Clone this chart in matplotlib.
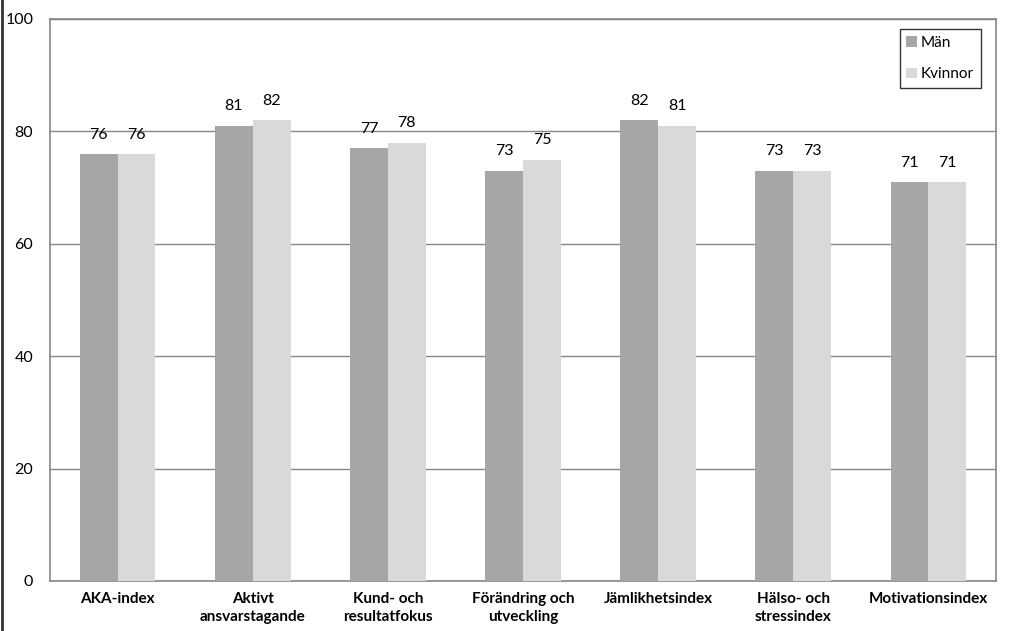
import matplotlib
matplotlib.use("Agg")
import matplotlib.pyplot as plt
import numpy as np
from matplotlib.lines import Line2D

categories = ["AKA-index", "Aktivt\nansvarstagande", "Kund- och\nresultatfokus",
              "Förändring och\nutveckling", "Jämlikhetsindex", "Hälso- och\nstressindex",
              "Motivationsindex"]
man = [76, 81, 77, 73, 82, 73, 71]
kvinnor = [76, 82, 78, 75, 81, 73, 71]
series_labels = ["Män", "Kvinnor"]
yticks = [0, 20, 40, 60, 80, 100]

plt.rcParams['font.family'] = ['Lato', 'DejaVu Sans']

fig = plt.figure(figsize=(10.23, 6.31), dpi=100)
ax = fig.add_axes([50/1023, 50/631, 946/1023, 562/631])

x = np.arange(len(categories))
w = 0.28
b1 = ax.bar(x - w/2, man, w, color="#a6a6a6", label=series_labels[0], zorder=3)
b2 = ax.bar(x + w/2, kvinnor, w, color="#d9d9d9", label=series_labels[1], zorder=3)

for rect, v in zip(b1, man):
    ax.text(rect.get_x() + rect.get_width()/2, v + 2.2, f"{v}", ha="center", va="bottom", fontsize=11.5, color="#000000")
for rect, v in zip(b2, kvinnor):
    ax.text(rect.get_x() + rect.get_width()/2, v + 2.2, f"{v}", ha="center", va="bottom", fontsize=11.5, color="#000000")

ax.set_xlim(-0.5, len(categories) - 0.5)
ax.set_ylim(0, 100)
ax.set_yticks(yticks)
ax.set_yticklabels([str(t) for t in yticks], fontsize=11.5)
ax.set_xticks(x)
ax.set_xticklabels(categories, fontsize=11, fontweight="bold", linespacing=1.35)
ax.tick_params(axis="both", length=0, pad=8)
ax.tick_params(axis="y", pad=12)
ax.yaxis.grid(True, color="#868686", linewidth=1.0, zorder=0)
for s in ax.spines.values():
    s.set_color("#868686")
    s.set_linewidth(1.2)

leg = ax.legend(loc="upper right", fontsize=11, frameon=True, fancybox=False, edgecolor="#000000",
                handlelength=0.7, handleheight=0.7, handletextpad=0.25, labelspacing=1.15,
                borderpad=0.45, borderaxespad=0)
leg.set_bbox_to_anchor((981/1023, 1 - 29/631), transform=fig.transFigure)
leg.get_frame().set_linewidth(1.0)

fig.add_artist(Line2D([1.5/1023, 1.5/1023], [0, 1], color="#333333", linewidth=2, transform=fig.transFigure))

fig.savefig("out.png", dpi=100)
